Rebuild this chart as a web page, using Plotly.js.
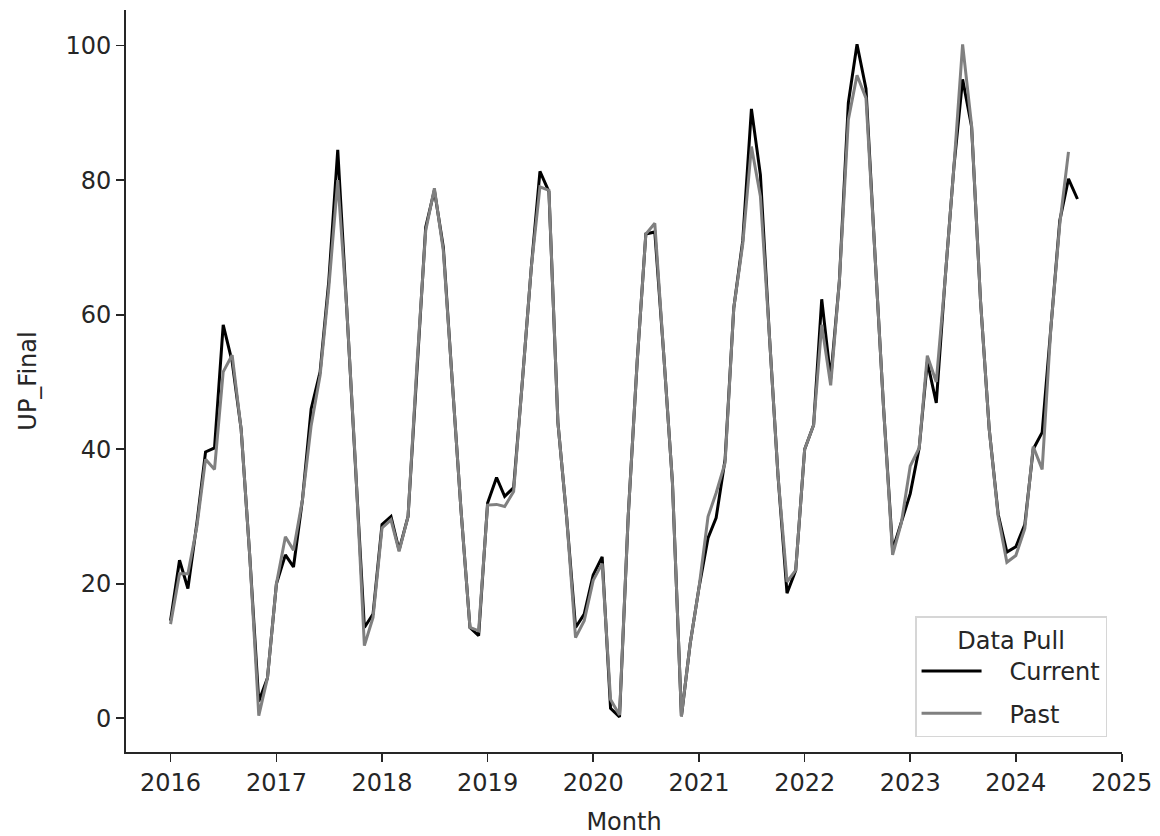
<!DOCTYPE html>
<html>
<head>
<meta charset="utf-8">
<script src="https://cdn.plot.ly/plotly-3.0.1.min.js"></script>
<style>
  html, body { margin: 0; padding: 0; background: #ffffff; }
  #chart { width: 1160px; height: 836px; }
</style>
</head>
<body>
<div id="chart"></div>
<script>
// Months (first day of each month)
const months = [
  "2016-01-01","2016-02-01","2016-03-01","2016-04-01","2016-05-01","2016-06-01","2016-07-01","2016-08-01","2016-09-01","2016-10-01","2016-11-01","2016-12-01",
  "2017-01-01","2017-02-01","2017-03-01","2017-04-01","2017-05-01","2017-06-01","2017-07-01","2017-08-01","2017-09-01","2017-10-01","2017-11-01","2017-12-01",
  "2018-01-01","2018-02-01","2018-03-01","2018-04-01","2018-05-01","2018-06-01","2018-07-01","2018-08-01","2018-09-01","2018-10-01","2018-11-01","2018-12-01",
  "2019-01-01","2019-02-01","2019-03-01","2019-04-01","2019-05-01","2019-06-01","2019-07-01","2019-08-01","2019-09-01","2019-10-01","2019-11-01","2019-12-01",
  "2020-01-01","2020-02-01","2020-03-01","2020-04-01","2020-05-01","2020-06-01","2020-07-01","2020-08-01","2020-09-01","2020-10-01","2020-11-01","2020-12-01",
  "2021-01-01","2021-02-01","2021-03-01","2021-04-01","2021-05-01","2021-06-01","2021-07-01","2021-08-01","2021-09-01","2021-10-01","2021-11-01","2021-12-01",
  "2022-01-01","2022-02-01","2022-03-01","2022-04-01","2022-05-01","2022-06-01","2022-07-01","2022-08-01","2022-09-01","2022-10-01","2022-11-01","2022-12-01",
  "2023-01-01","2023-02-01","2023-03-01","2023-04-01","2023-05-01","2023-06-01","2023-07-01","2023-08-01","2023-09-01","2023-10-01","2023-11-01","2023-12-01",
  "2024-01-01","2024-02-01","2024-03-01","2024-04-01","2024-05-01","2024-06-01","2024-07-01","2024-08-01"
];

// "Current" data pull (Jan 2016 – Aug 2024)
const currentValues = [
  14.5, 23.5, 19.3, 29.0, 39.6, 40.2, 58.5, 53.0, 43.0, 24.0, 2.5, 6.0,
  20.0, 24.3, 22.5, 32.5, 46.0, 51.5, 65.0, 84.5, 61.0, 38.0, 13.5, 15.5,
  28.8, 30.0, 25.0, 30.0, 52.0, 73.0, 78.5, 70.0, 50.0, 31.0, 13.5, 12.3,
  32.0, 35.8, 33.0, 34.3, 50.0, 67.0, 81.3, 78.3, 44.0, 30.0, 13.5, 15.5,
  21.3, 24.0, 1.5, 0.2, 30.0, 53.0, 72.0, 72.3, 54.0, 35.0, 0.3, 11.0,
  19.5, 26.8, 29.8, 38.5, 61.0, 71.0, 90.6, 80.8, 57.0, 36.0, 18.6, 22.0,
  40.0, 43.6, 62.3, 50.5, 65.0, 91.5, 100.2, 93.6, 69.0, 46.0, 25.0, 29.0,
  33.4, 40.2, 53.0, 46.9, 65.0, 82.0, 95.0, 88.0, 62.0, 43.0, 30.3, 24.7,
  25.5, 28.8, 40.0, 42.5, 58.0, 74.0, 80.2, 77.2
];

// "Past" data pull (Jan 2016 – Jul 2024)
const pastValues = [
  14.0, 21.5, 21.5, 28.5, 38.5, 37.0, 51.5, 54.0, 43.0, 24.0, 0.4, 6.0,
  20.0, 27.0, 25.0, 32.5, 43.5, 51.0, 64.0, 80.0, 61.0, 38.0, 10.8, 15.0,
  28.3, 29.5, 24.8, 30.0, 52.0, 72.5, 78.8, 69.5, 50.0, 31.0, 13.5, 13.0,
  31.7, 31.8, 31.5, 33.7, 50.0, 67.0, 79.0, 78.5, 44.0, 30.0, 12.0, 14.5,
  20.5, 23.0, 2.8, 0.5, 30.0, 53.0, 72.0, 73.6, 54.0, 35.0, 0.3, 11.0,
  19.5, 30.0, 33.5, 38.0, 61.0, 70.5, 85.0, 77.6, 57.0, 36.0, 20.3, 22.0,
  40.0, 43.6, 58.5, 49.5, 65.0, 89.0, 95.6, 92.2, 69.0, 46.0, 24.3, 29.0,
  37.5, 40.2, 53.9, 50.0, 65.0, 82.0, 100.2, 88.2, 62.0, 43.0, 30.0, 23.2,
  24.2, 28.2, 40.4, 37.0, 58.0, 73.5, 84.2
];

const seriesNames = ["Current", "Past"];
const yTickVals = [0, 20, 40, 60, 80, 100];
const xTickVals = ["2016-01-01","2017-01-01","2018-01-01","2019-01-01","2020-01-01","2021-01-01","2022-01-01","2023-01-01","2024-01-01","2025-01-01"];
const xTickText = ["2016","2017","2018","2019","2020","2021","2022","2023","2024","2025"];

const FONT = "DejaVu Sans, Verdana, sans-serif";
const TXT = "#262626";
const FS = 24;

const traces = [
  {
    x: months,
    y: currentValues,
    name: "\u00a0\u00a0\u00a0" + seriesNames[0],
    legendgroup: "g1",
    type: "scatter",
    mode: "lines",
    line: { color: "#000000", width: 3 },
    hoverinfo: "skip"
  },
  {
    x: months.slice(0, pastValues.length),
    y: pastValues,
    name: "\u00a0\u00a0\u00a0" + seriesNames[1],
    legendgroup: "g2",
    type: "scatter",
    mode: "lines",
    line: { color: "#808080", width: 3 },
    hoverinfo: "skip"
  }
];

const layout = {
  width: 1160,
  height: 836,
  paper_bgcolor: "#ffffff",
  plot_bgcolor: "#ffffff",
  margin: { l: 126, r: 38, t: 10, b: 84, pad: 0 },
  font: { family: FONT, size: FS, color: TXT },
  showlegend: true,
  xaxis: {
    type: "date",
    range: ["2015-07-31", "2025-01-02"],
    tickmode: "array",
    tickvals: xTickVals,
    ticktext: xTickText,
    showgrid: false,
    zeroline: false,
    showline: true,
    linecolor: "#262626",
    linewidth: 1.8,
    ticks: "outside",
    ticklen: 8,
    tickwidth: 1.6,
    tickcolor: "#262626",
    tickfont: { family: FONT, size: FS, color: TXT },
    title: { text: "Month", font: { family: FONT, size: FS, color: TXT }, standoff: 18 },
    automargin: false,
    fixedrange: true
  },
  yaxis: {
    range: [-5.01, 105.3],
    tickmode: "array",
    tickvals: yTickVals,
    ticktext: yTickVals.map(String),
    showgrid: false,
    zeroline: false,
    showline: true,
    linecolor: "#262626",
    linewidth: 1.8,
    ticks: "outside",
    ticklen: 8,
    tickwidth: 1.6,
    tickcolor: "#262626",
    tickfont: { family: FONT, size: FS, color: TXT },
    title: { text: "UP_Final", font: { family: FONT, size: FS, color: TXT }, standoff: 22 },
    automargin: false,
    fixedrange: true
  },
  legend: {
    title: { text: "Data Pull", side: "top center", font: { family: FONT, size: FS, color: TXT } },
    font: { family: FONT, size: FS, color: TXT },
    x: 0.985,
    y: 0.02,
    xanchor: "right",
    yanchor: "bottom",
    bgcolor: "rgba(255,255,255,0.85)",
    bordercolor: "#d6d6d6",
    borderwidth: 1.5,
    itemwidth: 60,
    tracegroupgap: 8
  }
};

Plotly.newPlot("chart", traces, layout, { staticPlot: true, displayModeBar: false });
</script>
</body>
</html>
